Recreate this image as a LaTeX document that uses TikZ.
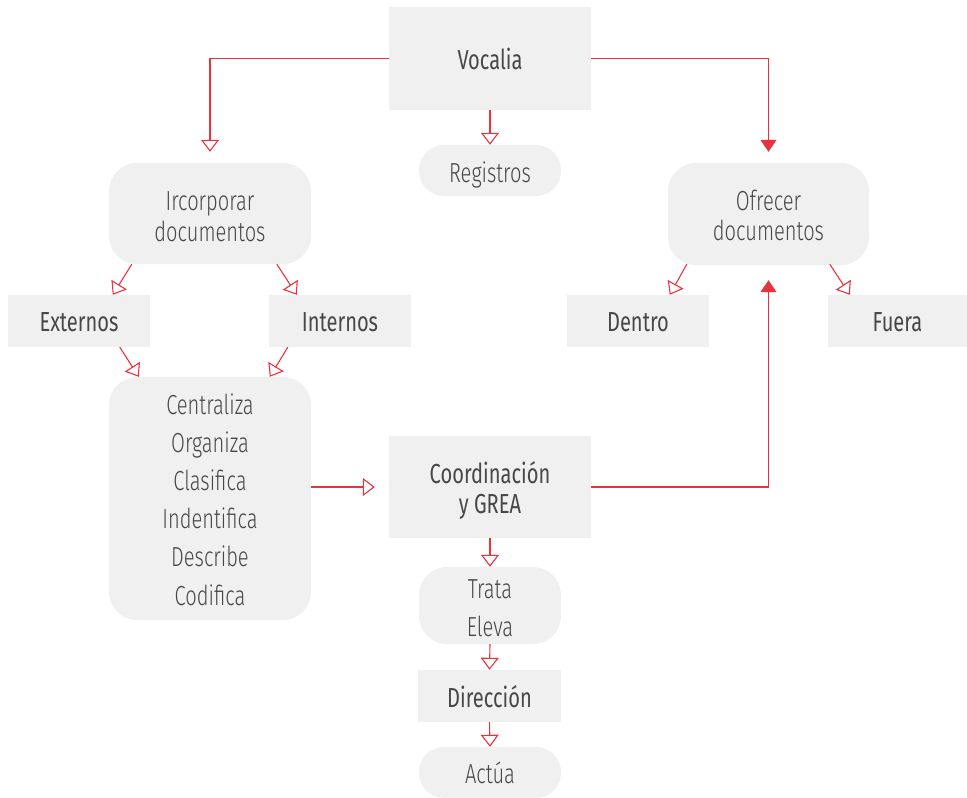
\documentclass[tikz,border=0pt]{standalone}
\usepackage{fontspec}
\setmainfont{Fira Sans Light}[FakeStretch=0.73]
\newfontfamily\medf{Fira Sans}[FakeStretch=0.73]
\usetikzlibrary{arrows.meta,calc}
\definecolor{linkred}{HTML}{E8323E}
\definecolor{boxgray}{HTML}{F0F0F0}
\definecolor{txt}{HTML}{474747}
\tikzset{
  box/.style={fill=boxgray, inner sep=0pt},
  rbox/.style={box, rounded corners=28pt},
  lbl/.style={text=txt, inner sep=0pt, align=center, anchor=base, font=\fontsize{27.5}{31}\selectfont},
  blbl/.style={lbl, font=\medf\fontsize{27.5}{31}\selectfont},
  link/.style={draw=linkred, line width=1.1pt},
  oarr/.style={link, -{Triangle[open, length=12pt, width=18pt, line width=1.1pt]}},
  farr/.style={link, -{Triangle[length=12pt, width=16pt]}},
}
\begin{document}
\begin{tikzpicture}[x=1pt, y=-1pt]
\useasboundingbox (0,0) rectangle (967,798);
% boxes
\node[box, minimum width=202pt, minimum height=103pt] (voc) at (490,58.5) {};
\node[rbox, rounded corners=25pt, minimum width=142pt, minimum height=51pt] (reg) at (490,170.5) {};
\node[rbox, minimum width=202pt, minimum height=101pt] (inc) at (210,213.5) {};
\node[rbox, minimum width=201pt, minimum height=102pt] (ofr) at (768.5,214) {};
\node[box, minimum width=142pt, minimum height=52pt] (ext) at (79,321) {};
\node[box, minimum width=142pt, minimum height=52pt] (int) at (340,321) {};
\node[box, minimum width=142pt, minimum height=52pt] (den) at (638,321) {};
\node[box, minimum width=139pt, minimum height=52pt] (fue) at (897.5,321) {};
\node[rbox, minimum width=202pt, minimum height=243pt] (cen) at (210,498.5) {};
\node[box, minimum width=202pt, minimum height=102pt] (coo) at (490,487) {};
\node[rbox, minimum width=142pt, minimum height=77pt] (tra) at (490,605.5) {};
\node[box, minimum width=143pt, minimum height=52pt] (dir) at (489.5,696) {};
\node[rbox, rounded corners=25pt, minimum width=142pt, minimum height=51pt] (act) at (490,772.5) {};
% texts, placed on the baseline of their last line
\node[blbl] (voct) at (490,69) {Vocalia};
\node[lbl] (regt) at (490,182) {Registros};
\node[lbl, font=\fontsize{27.5}{31}\selectfont] (inct) at (210,241) {Ircorporar\\documentos};
\node[lbl, font=\fontsize{27.5}{30}\selectfont] (ofrt) at (768.5,240) {Ofrecer\\documentos};
\node[blbl] (extt) at (79,331) {Externos};
\node[blbl] (intt) at (340,331) {Internos};
\node[blbl] (dent) at (638,331) {Dentro};
\node[blbl] (fuet) at (897.5,331) {Fuera};
\node[lbl, font=\fontsize{27.5}{38.2}\selectfont] (cent) at (210,605)
  {Centraliza\\Organiza\\Clasifica\\Indentifica\\Describe\\Codifica};
\node[blbl, font=\medf\fontsize{27.5}{30}\selectfont] (coot) at (490,513) {Coordinación\\y GREA};
\node[lbl, font=\fontsize{27.5}{38}\selectfont] (trat) at (490,636) {Trata\\Eleva};
\node[blbl] (dirt) at (489.5,707) {Dirección};
\node[lbl] (actt) at (490,783) {Actúa};
% connectors
\draw[oarr, shorten >=11pt] (voc.west) -| (inc.north);
\draw[farr, shorten >=11pt] (voc.east) -| (ofr.north);
\draw[oarr] (voc.south) -- (reg.north);
\draw[oarr] ($(inc.south west)+(23,0)$) -- ($(ext.north west)+(105,0)$);
\draw[oarr] ($(inc.south west)+(168,0)$) -- ($(int.north west)+(28,0)$);
\draw[oarr] ($(ext.south west)+(112,0)$) -- ($(cen.north west)+(30,0)$);
\draw[oarr] ($(int.south west)+(19,0)$) -- ($(cen.north west)+(161,0)$);
\draw[oarr] ($(ofr.south west)+(19,-1)$) -- ($(den.north west)+(103,0)$);
\draw[oarr] ($(ofr.south west)+(162,-1)$) -- ($(fue.north west)+(22,0)$);
\draw[oarr, shorten >=14pt] (cen.east |- coo.west) -- (coo.west);
\draw[farr, shorten >=15pt] (coo.east) -| (ofr.south);
\draw[oarr] (coo.south) -- (tra.north);
\draw[oarr] (tra.south) -- (dir.north);
\draw[oarr] (dir.south) -- (act.north);
\end{tikzpicture}
\end{document}
